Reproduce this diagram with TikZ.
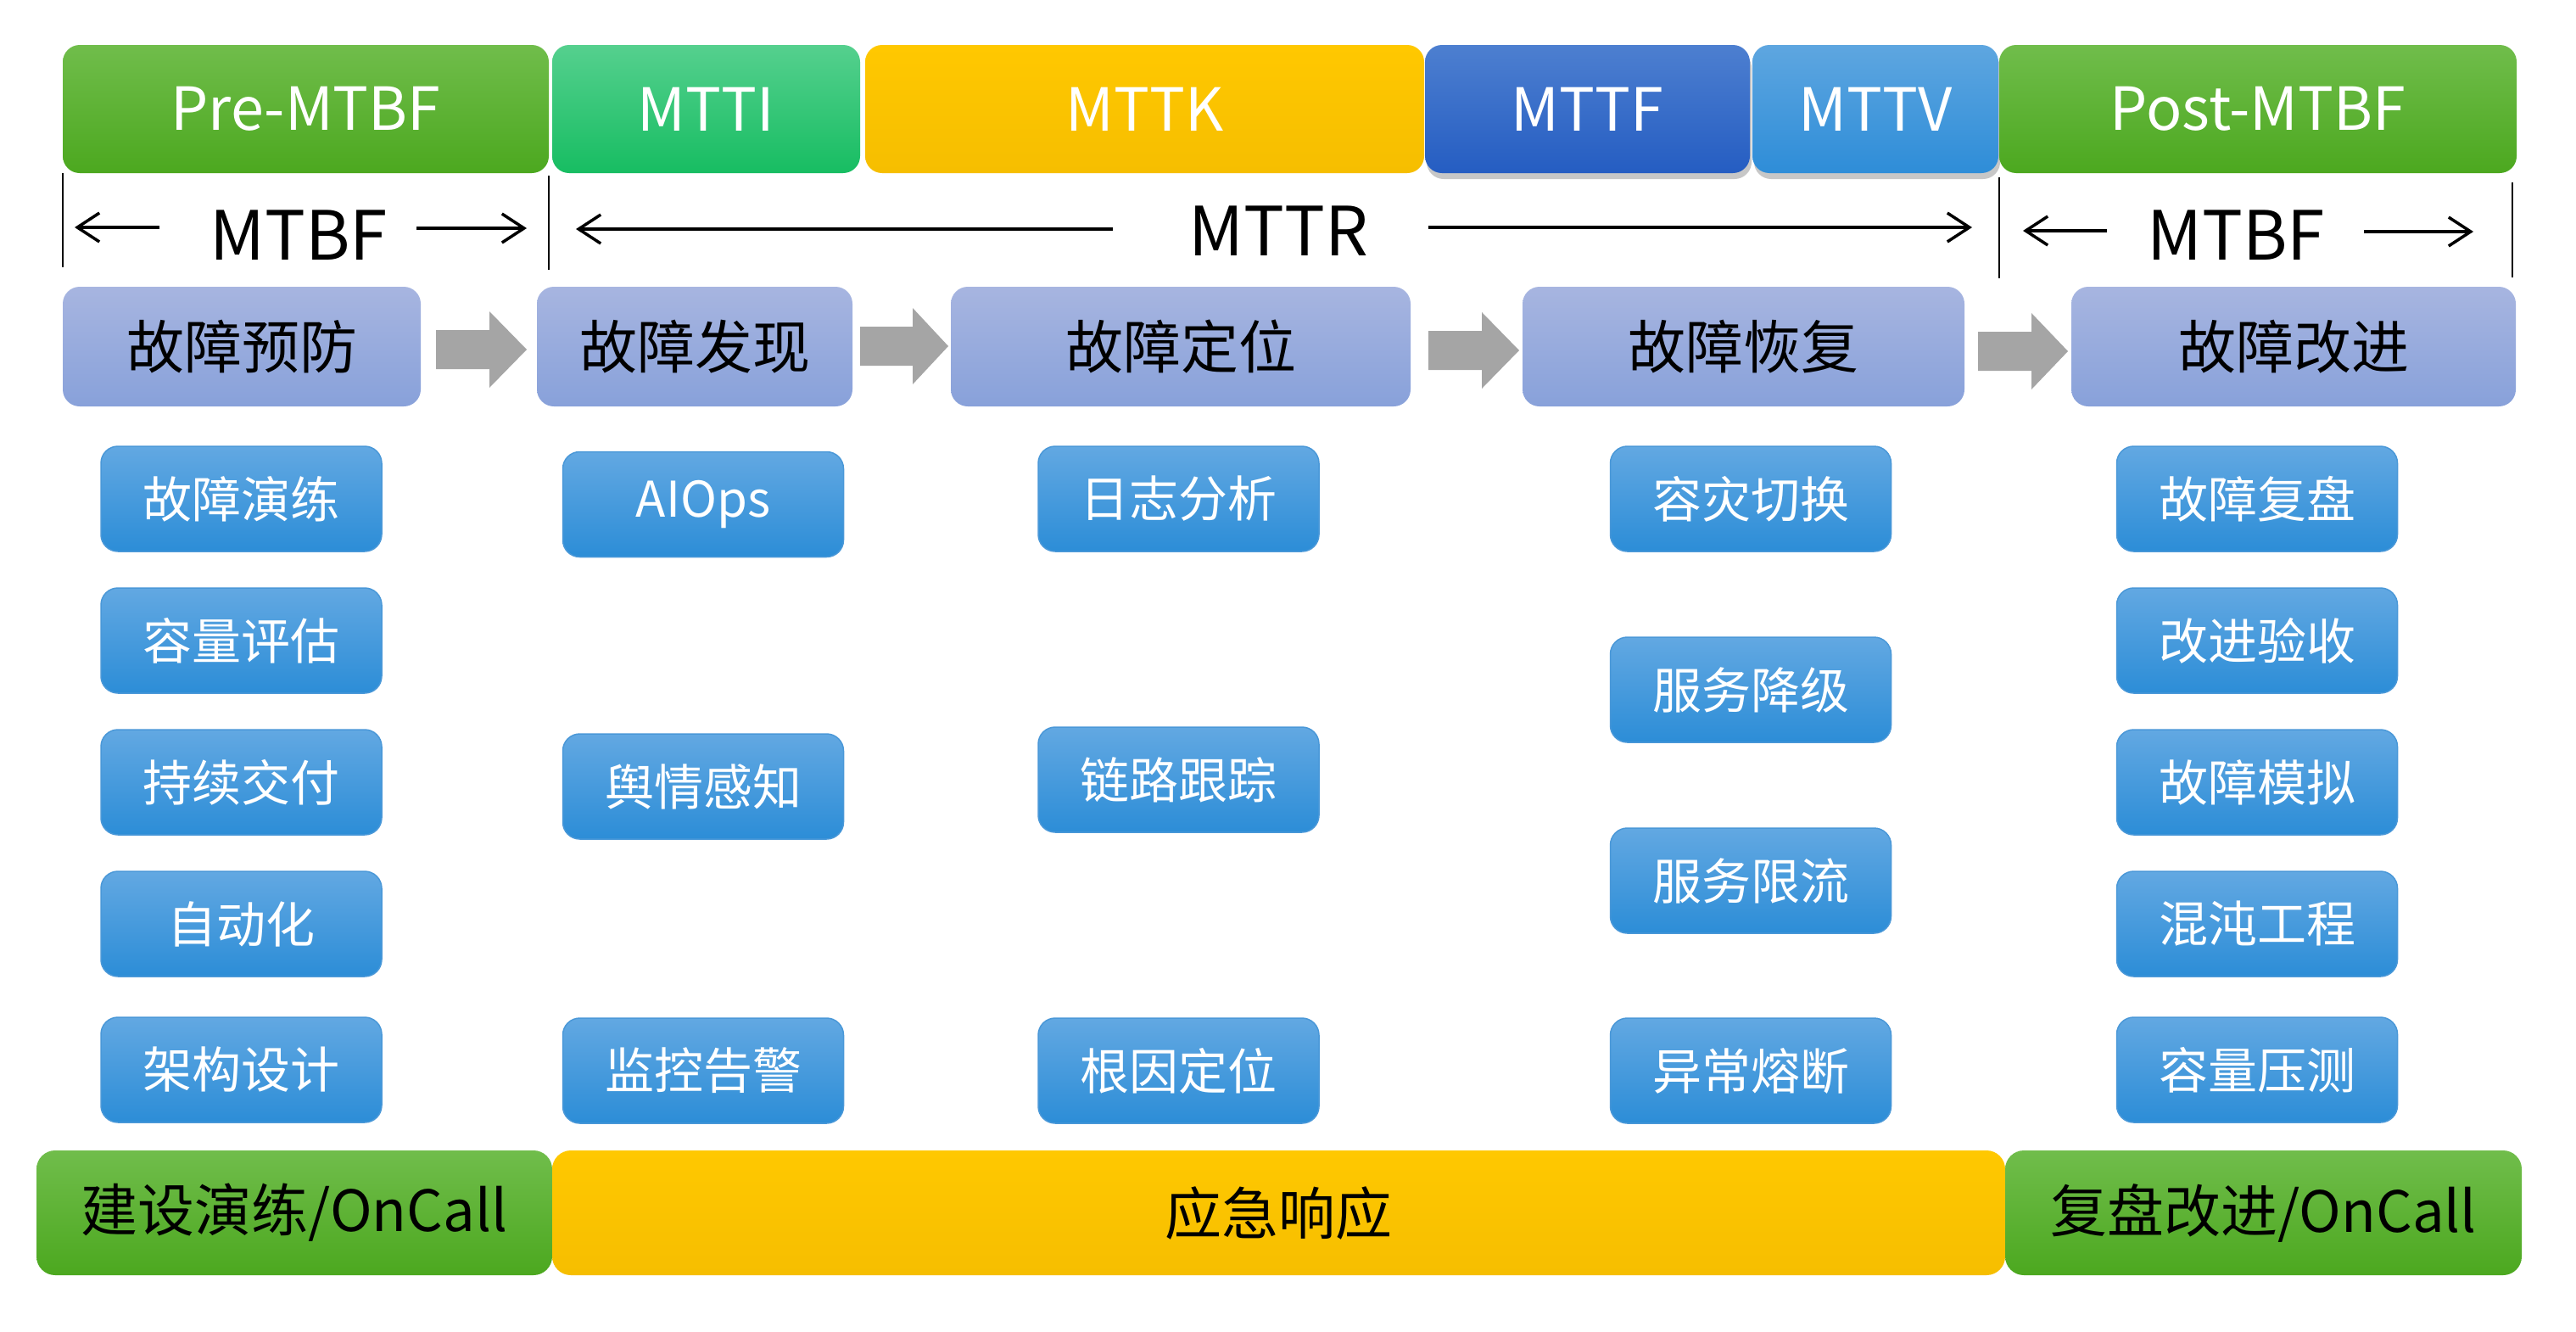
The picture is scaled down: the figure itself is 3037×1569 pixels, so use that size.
\documentclass[tikz,border=0pt]{standalone}
\usepackage{fontspec}
\setmainfont{Noto Sans CJK SC}
\usetikzlibrary{shadows,arrows.meta}
\definecolor{grT}{HTML}{70BD4B}
\definecolor{grB}{HTML}{4CA81F}
\definecolor{emT}{HTML}{55D08E}
\definecolor{emB}{HTML}{17BD62}
\definecolor{yeT}{HTML}{FFC800}
\definecolor{yeB}{HTML}{F6BE00}
\definecolor{dbT}{HTML}{4D7FD0}
\definecolor{dbB}{HTML}{255DC2}
\definecolor{lbT}{HTML}{5EA6E0}
\definecolor{lbB}{HTML}{2E8DD8}
\definecolor{lvT}{HTML}{A7B5E0}
\definecolor{lvB}{HTML}{88A1DA}
\definecolor{smT}{HTML}{62A8E2}
\definecolor{smB}{HTML}{2C8DD7}
\definecolor{smE}{HTML}{4A98D8}
\definecolor{arrgray}{HTML}{A5A5A5}
\newcommand\grayarrow[4]{%
  \fill[arrgray] (#1,{#4-23}) -- (#2,{#4-23}) -- (#2,{#4-45}) -- (#3,#4) -- (#2,{#4+45}) -- (#2,{#4+23}) -- (#1,{#4+23}) -- cycle;}
\begin{document}
\begin{tikzpicture}[x=1pt,y=-1pt,
  topbox/.style={rounded corners=20pt, minimum height=151pt, inner sep=0pt,
    text=white, font=\fontsize{70pt}{80pt}\selectfont},
  grn/.style={top color=grT, bottom color=grB},
  emr/.style={top color=emT, bottom color=emB},
  yel/.style={top color=yeT, bottom color=yeB},
  dbl/.style={top color=dbT, bottom color=dbB},
  lbl/.style={top color=lbT, bottom color=lbB},
  shad/.style={drop shadow={shadow xshift=2pt, shadow yshift=-7pt, opacity=0.22, fill=black}},
  stepbox/.style={rounded corners=20pt, minimum height=141pt, inner sep=0pt,
    top color=lvT, bottom color=lvB, text=black, font=\fontsize{68pt}{78pt}\selectfont},
  smallbox/.style={rounded corners=20pt, minimum width=331pt, minimum height=124pt, inner sep=0pt,
    top color=smT, bottom color=smB, draw=smE, line width=1.5pt, text=white,
    font=\fontsize{58pt}{66pt}\selectfont},
  botbox/.style={rounded corners=22pt, minimum height=147pt, inner sep=0pt,
    text=black, font=\fontsize{67pt}{77pt}\selectfont},
  dimlbl/.style={inner sep=0pt, text=black, font=\fontsize{80pt}{90pt}\selectfont},
  tick/.style={line width=2.5pt, black},
  dimarrow/.style={line width=3.5pt, -{Straight Barb[length=26pt, width=34pt]}}
]
\useasboundingbox (0,0) rectangle (3037,1569);
\fill[white] (0,0) rectangle (3037,1569);

% top bar
\node[topbox, grn, minimum width=573pt] (pre) at (360.5,128.5) {Pre-MTBF};
\node[topbox, emr, minimum width=363pt] (mtti) at (832.5,128.5) {MTTI};
\node[topbox, yel, minimum width=659pt] (mttk) at (1349.5,128.5) {MTTK};
\node[topbox, dbl, shad, minimum width=383pt] (mttf) at (1871.5,128.5) {MTTF};
\node[topbox, lbl, shad, minimum width=290pt] (mttv) at (2211,128.5) {MTTV};
\node[topbox, grn, minimum width=610pt] (post) at (2662,128.5) {Post-MTBF};

% dimension lines
\coordinate (t1a) at (74,204);  \coordinate (t1b) at (74,315);
\coordinate (t2a) at (647,207); \coordinate (t2b) at (647,318);
\coordinate (t3a) at (2357,209); \coordinate (t3b) at (2357,328);
\coordinate (t4a) at (2962,215); \coordinate (t4b) at (2962,327);
\draw[tick] (t1a) -- (t1b);
\draw[tick] (t2a) -- (t2b);
\draw[tick] (t3a) -- (t3b);
\draw[tick] (t4a) -- (t4b);

\node[dimlbl] (mtbf1) at (352,277) {MTBF};
\node[dimlbl] (mttr) at (1507,272) {MTTR};
\node[dimlbl] (mtbf2) at (2636,277) {MTBF};

\coordinate (a1s) at (188,268); \coordinate (a1e) at (88,268);
\coordinate (a2s) at (491,269); \coordinate (a2e) at (621,269);
\coordinate (a3s) at (1312,270); \coordinate (a3e) at (679,270);
\coordinate (a4s) at (1684,268); \coordinate (a4e) at (2325,268);
\coordinate (a5s) at (2484,272); \coordinate (a5e) at (2385,272);
\coordinate (a6s) at (2787,273); \coordinate (a6e) at (2916,273);
\draw[dimarrow] (a1s) -- (a1e);
\draw[dimarrow] (a2s) -- (a2e);
\draw[dimarrow] (a3s) -- (a3e);
\draw[dimarrow] (a4s) -- (a4e);
\draw[dimarrow] (a5s) -- (a5e);
\draw[dimarrow] (a6s) -- (a6e);

% step row
\node[stepbox, minimum width=422pt] (s1) at (285,408.5) {故障预防};
\node[stepbox, minimum width=372pt] (s2) at (819,408.5) {故障发现};
\node[stepbox, minimum width=542pt] (s3) at (1392,408.5) {故障定位};
\node[stepbox, minimum width=521pt] (s4) at (2055.5,408.5) {故障恢复};
\node[stepbox, minimum width=524pt] (s5) at (2704,408.5) {故障改进};

\grayarrow{514}{577}{621}{412}
\grayarrow{1014}{1076}{1118}{408}
\grayarrow{1684}{1747}{1791}{413}
\grayarrow{2332}{2395}{2438}{414}

% column 1
\node[smallbox] (c1a) at (284.5,588) {故障演练};
\node[smallbox] (c1b) at (284.5,755) {容量评估};
\node[smallbox] (c1c) at (284.5,922) {持续交付};
\node[smallbox] (c1d) at (284.5,1089) {自动化};
\node[smallbox] (c1e) at (284.5,1261) {架构设计};
% column 2
\node[smallbox] (c2a) at (829,594.5) {AIOps};
\node[smallbox] (c2b) at (829,927) {舆情感知};
\node[smallbox] (c2c) at (829,1262) {监控告警};
% column 3
\node[smallbox] (c3a) at (1389.5,588) {日志分析};
\node[smallbox] (c3b) at (1389.5,919) {链路跟踪};
\node[smallbox] (c3c) at (1389.5,1262) {根因定位};
% column 4
\node[smallbox] (c4a) at (2064,588) {容灾切换};
\node[smallbox] (c4b) at (2064,813) {服务降级};
\node[smallbox] (c4c) at (2064,1038) {服务限流};
\node[smallbox] (c4d) at (2064,1262) {异常熔断};
% column 5
\node[smallbox] (c5a) at (2661,588) {故障复盘};
\node[smallbox] (c5b) at (2661,755) {改进验收};
\node[smallbox] (c5c) at (2661,922) {故障模拟};
\node[smallbox] (c5d) at (2661,1089) {混沌工程};
\node[smallbox] (c5e) at (2661,1261) {容量压测};

% bottom bar
\node[botbox, grn, minimum width=608pt] (b1) at (347,1429.5) {建设演练/OnCall};
\node[botbox, yel, minimum width=1713pt] (b2) at (1507.5,1429.5) {应急响应};
\node[botbox, grn, minimum width=609pt] (b3) at (2668.5,1429.5) {复盘改进/OnCall};
\end{tikzpicture}
\end{document}
